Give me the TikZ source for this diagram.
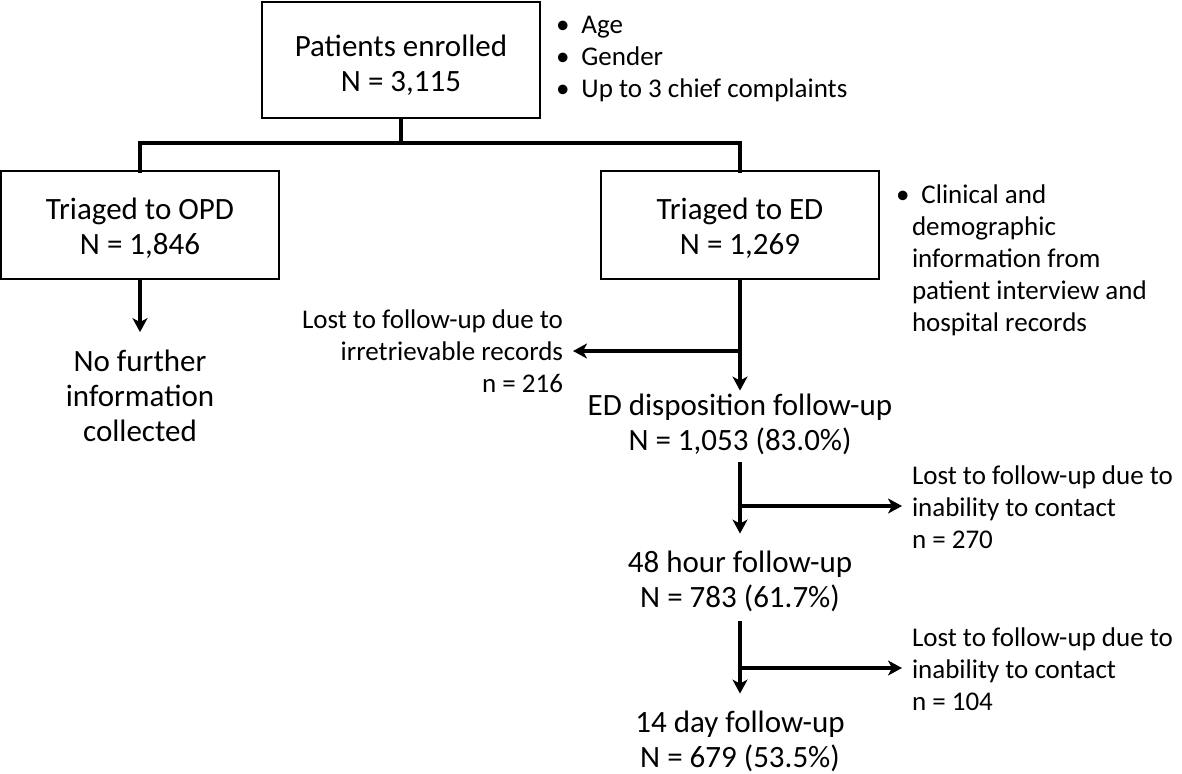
\documentclass[tikz,border=0pt]{standalone}
\usepackage{fontspec}
\setmainfont{Carlito}
\usetikzlibrary{arrows.meta}
\begin{document}
\begin{tikzpicture}[x=1pt,y=-1pt,
  box/.style={draw,line width=1.8pt,inner sep=0pt,outer sep=0pt},
  big/.style={font=\fontsize{31}{35}\selectfont,align=center,inner sep=0pt,outer sep=0pt},
  small/.style={font=\fontsize{27}{32}\selectfont,inner sep=0pt,outer sep=0pt},
  conn/.style={line width=3.2pt},
  arr/.style={line width=3.2pt,-{Stealth[length=14pt,width=15pt,inset=4pt]}}]
\useasboundingbox (0,0) rectangle (1182,773);

% boxes
\node[box,minimum width=278pt,minimum height=116pt] (top) at (401,60) {};
\node[big] (toptxt) at ([yshift=-5pt]top.center) {Patients enrolled\\N = 3,115};
\node[box,minimum width=278pt,minimum height=108pt] (opd) at (140,225) {};
\node[big] (opdtxt) at ([yshift=-3pt]opd.center) {Triaged to OPD\\N = 1,846};
\node[box,minimum width=278pt,minimum height=108pt] (ed) at (740,225) {};
\node[big] (edtxt) at ([yshift=-3pt]ed.center) {Triaged to ED\\N = 1,269};

% side notes
\node[small,align=left,anchor=west] (notes1) at (556,59)
  {\textbullet\hspace{12pt}Age\\\textbullet\hspace{12pt}Gender\\\textbullet\hspace{12pt}Up to 3 chief complaints};
\node[small,align=left,anchor=west] (notes2) at (896,260)
  {\textbullet\hspace{12pt}Clinical and\\\hspace*{16pt}demographic\\\hspace*{16pt}information from\\\hspace*{16pt}patient interview and\\\hspace*{16pt}hospital records};

% plain text nodes
\node[big] (nf) at (140,396) {No further\\information\\collected};
\node[big] (disp) at (740,424) {ED disposition follow-up\\N = 1,053 (83.0\%)};
\node[big] (h48) at (740,581) {48 hour follow-up\\N = 783 (61.7\%)};
\node[big] (d14) at (740,741) {14 day follow-up\\N = 679 (53.5\%)};

\node[small,align=right,anchor=east] (lost1) at (563,351) {Lost to follow-up due to\\irretrievable records\\n = 216};
\node[small,align=left,anchor=west] (lost2) at (912,507) {Lost to follow-up due to\\inability to contact\\n = 270};
\node[small,align=left,anchor=west] (lost3) at (912,669) {Lost to follow-up due to\\inability to contact\\n = 104};

% connectors
\coordinate (split) at (401,143);
\draw[conn] (top.south) -- (split);
\draw[conn,line cap=rect] (split) -| (opd.north);
\draw[conn,line cap=rect] (split) -| (ed.north);
\draw[arr,shorten >=18pt] (opd.south) -- (nf.north);

\draw[arr,shorten >=3pt] (ed.south) -- (disp.north);
\coordinate (b1) at (740,351);
\draw[arr] (b1) -- ([xshift=10pt]lost1.east |- b1);

\draw[arr,shorten <=8pt,shorten >=17pt] (disp.south) -- (h48.north);
\coordinate (b2) at (740,506);
\draw[arr] (b2) -- ([xshift=-10pt]lost2.west |- b2);

\draw[arr,shorten <=10pt,shorten >=17pt] (h48.south) -- (d14.north);
\coordinate (b3) at (740,668);
\draw[arr] (b3) -- ([xshift=-10pt]lost3.west |- b3);
\end{tikzpicture}
\end{document}
